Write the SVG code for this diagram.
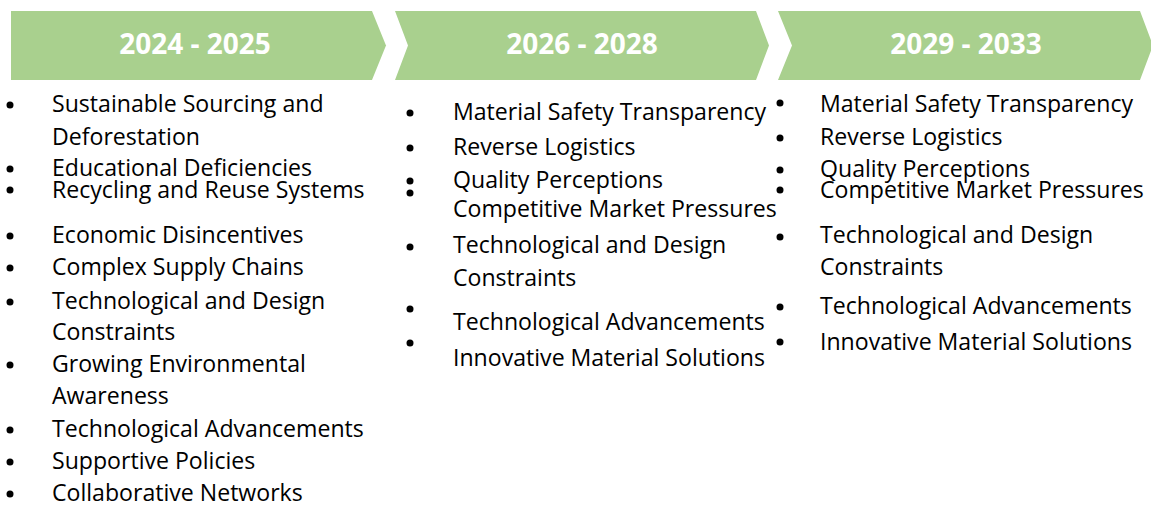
<svg xmlns="http://www.w3.org/2000/svg" width="1151" height="507" viewBox="0 0 1151 507">
<style>
.chev{fill:#A9D08E;}
.title{font-family:"Open Sans","Liberation Sans",sans-serif;font-weight:bold;font-size:28px;fill:#fff;text-anchor:middle;}
.t{font-family:"Open Sans","Liberation Sans",sans-serif;font-size:23.1px;fill:#000;}
.b{fill:#000;}
</style>
<rect width="1151" height="507" fill="#fff"/>
<g id="phase1">
<path class="chev" d="M11,11 L372,11 L386,45.5 L372,80 L11,80 Z"/>
<text class="title" x="195" y="54">2024 - 2025</text>
</g>
<g id="phase2">
<path class="chev" d="M395,11 L756,11 L769,45.5 L756,80 L395,80 L408,45.5 Z"/>
<text class="title" x="582" y="54">2026 - 2028</text>
</g>
<g id="phase3">
<path class="chev" d="M778,11 L1140,11 L1153,45.5 L1140,80 L778,80 L792,45.5 Z"/>
<text class="title" x="966" y="54">2029 - 2033</text>
</g>
<g id="list1">
<circle class="b" cx="10" cy="105" r="3.5"/>
<circle class="b" cx="10" cy="169" r="3.5"/>
<circle class="b" cx="10" cy="190" r="3.5"/>
<circle class="b" cx="10" cy="236" r="3.5"/>
<circle class="b" cx="10" cy="268" r="3.5"/>
<circle class="b" cx="10" cy="302" r="3.5"/>
<circle class="b" cx="10" cy="365" r="3.5"/>
<circle class="b" cx="10" cy="430" r="3.5"/>
<circle class="b" cx="10" cy="462" r="3.5"/>
<circle class="b" cx="10" cy="494" r="3.5"/>
<text class="t" x="52" y="112">Sustainable Sourcing and</text>
<text class="t" x="52" y="145">Deforestation</text>
<text class="t" x="52" y="176">Educational Deficiencies</text>
<text class="t" x="52" y="198">Recycling and Reuse Systems</text>
<text class="t" x="52" y="243">Economic Disincentives</text>
<text class="t" x="52" y="275">Complex Supply Chains</text>
<text class="t" x="52" y="309">Technological and Design</text>
<text class="t" x="52" y="340">Constraints</text>
<text class="t" x="52" y="372">Growing Environmental</text>
<text class="t" x="52" y="404">Awareness</text>
<text class="t" x="52" y="437">Technological Advancements</text>
<text class="t" x="52" y="469">Supportive Policies</text>
<text class="t" x="52" y="501">Collaborative Networks</text>
</g>
<g id="list2">
<circle class="b" cx="410" cy="113" r="3.5"/>
<circle class="b" cx="410" cy="148" r="3.5"/>
<circle class="b" cx="410" cy="181" r="3.5"/>
<circle class="b" cx="410" cy="193" r="3.5"/>
<circle class="b" cx="410" cy="247" r="3.5"/>
<circle class="b" cx="410" cy="309" r="3.5"/>
<circle class="b" cx="410" cy="343" r="3.5"/>
<text class="t" x="453" y="120">Material Safety Transparency</text>
<text class="t" x="453" y="155">Reverse Logistics</text>
<text class="t" x="453" y="188">Quality Perceptions</text>
<text class="t" x="453" y="217">Competitive Market Pressures</text>
<text class="t" x="453" y="253">Technological and Design</text>
<text class="t" x="453" y="286">Constraints</text>
<text class="t" x="453" y="330">Technological Advancements</text>
<text class="t" x="453" y="366">Innovative Material Solutions</text>
</g>
<g id="list3">
<circle class="b" cx="780" cy="103" r="3.5"/>
<circle class="b" cx="780" cy="138" r="3.5"/>
<circle class="b" cx="780" cy="170" r="3.5"/>
<circle class="b" cx="780" cy="190" r="3.5"/>
<circle class="b" cx="780" cy="237" r="3.5"/>
<circle class="b" cx="780" cy="307" r="3.5"/>
<circle class="b" cx="780" cy="342" r="3.5"/>
<text class="t" x="820" y="112">Material Safety Transparency</text>
<text class="t" x="820" y="145">Reverse Logistics</text>
<text class="t" x="820" y="177">Quality Perceptions</text>
<text class="t" x="820" y="198">Competitive Market Pressures</text>
<text class="t" x="820" y="243">Technological and Design</text>
<text class="t" x="820" y="275">Constraints</text>
<text class="t" x="820" y="314">Technological Advancements</text>
<text class="t" x="820" y="350">Innovative Material Solutions</text>
</g>
</svg>
